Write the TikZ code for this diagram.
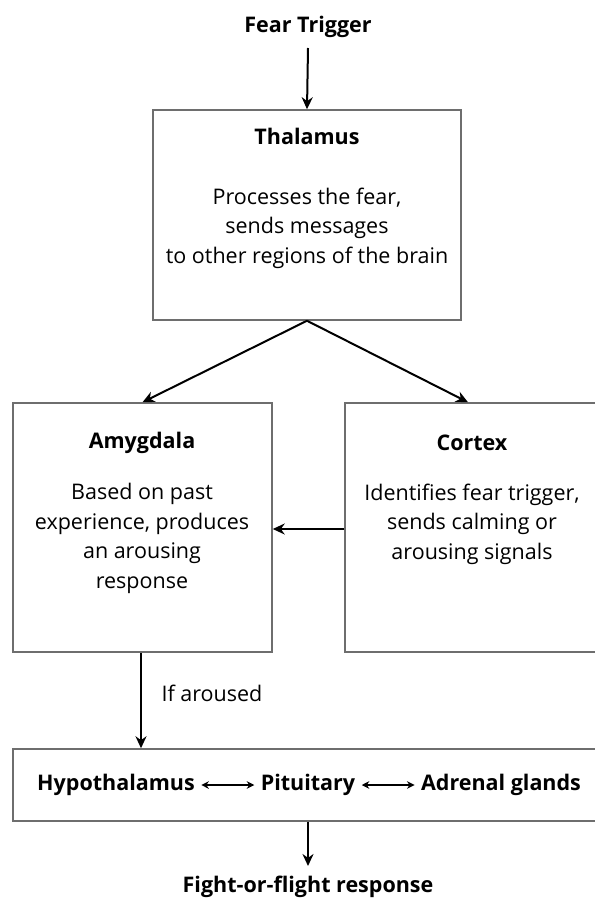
\documentclass[tikz,border=0pt]{standalone}
\usepackage{fontspec}
\setmainfont{Open Sans}
\usepackage{tikz}
\usetikzlibrary{positioning,arrows.meta}
\definecolor{boxgray}{RGB}{110,110,110}

\begin{document}
\begin{tikzpicture}[
  x=1pt, y=-1pt,
  region/.style={draw=boxgray, line width=1.5pt, inner sep=0pt},
  title/.style={font=\fontsize{21.5}{24}\selectfont\bfseries},
  body/.style={font=\fontsize{21.5}{29.5}\selectfont, align=center},
  flow/.style={-{Stealth[length=12pt,width=11pt]}, line width=2pt},
  pair/.style={{Stealth[length=7.5pt,width=7.5pt]}-{Stealth[length=7.5pt,width=7.5pt]}, line width=1.3pt, shorten <=3pt, shorten >=3pt}
]
\useasboundingbox (0,0) rectangle (594,901);

% boxes
\node[region, minimum width=308pt, minimum height=210pt] (thal) at (307,215) {};
\node[region, minimum width=259pt, minimum height=249pt] (amyg) at (142.5,527.5) {};
\node[region, minimum width=253pt, minimum height=249pt] (cortex) at (471.5,527.5) {};
\node[region, minimum width=585pt, minimum height=72pt] (hpa) at (305.5,785) {};

% texts
\node[title] (trigger) at (308,27) {Fear Trigger};
\node[title] (thaltitle) at (307,136) {Thalamus};
\node[body] (thalbody) at (307,228) {Processes the fear,\\sends messages\\to other regions of the brain};
\node[title] (amygtitle) at (142,443) {Amygdala};
\node[body] (amygbody) at (142,538.5) {Based on past\\experience, produces\\an arousing\\response};
\node[title] (cortextitle) at (472,443) {Cortex};
\node[body] (cortexbody) at (472,524) {Identifies fear trigger,\\sends calming or\\arousing signals};
\node[body, anchor=west] (aroused) at (158,693) {If aroused};
\node[title] (hyp) at (116,785) {Hypothalamus};
\node[title] (pit) at (308,785) {Pituitary};
\node[title] (adr) at (501,785) {Adrenal glands};
\node[title] (fight) at (308,887) {Fight-or-flight\ response};

% connectors
\draw[flow] (trigger.south |- 0,48) -- (thal.north);
\draw[flow] (thal.south) -- (amyg.north);
\draw[flow] (thal.south) -- (cortex.north -| 468,0);
\draw[flow] (cortex.west |- 0,529) -- (amyg.east |- 0,529);
\draw[flow] (amyg.south -| 141,0) -- (hpa.north -| 141,0);
\draw[flow] (hpa.south -| 308,0) -- (fight.north |- 0,866);
\draw[pair] (hyp) -- (pit);
\draw[pair] (pit) -- (adr);
\end{tikzpicture}
\end{document}
